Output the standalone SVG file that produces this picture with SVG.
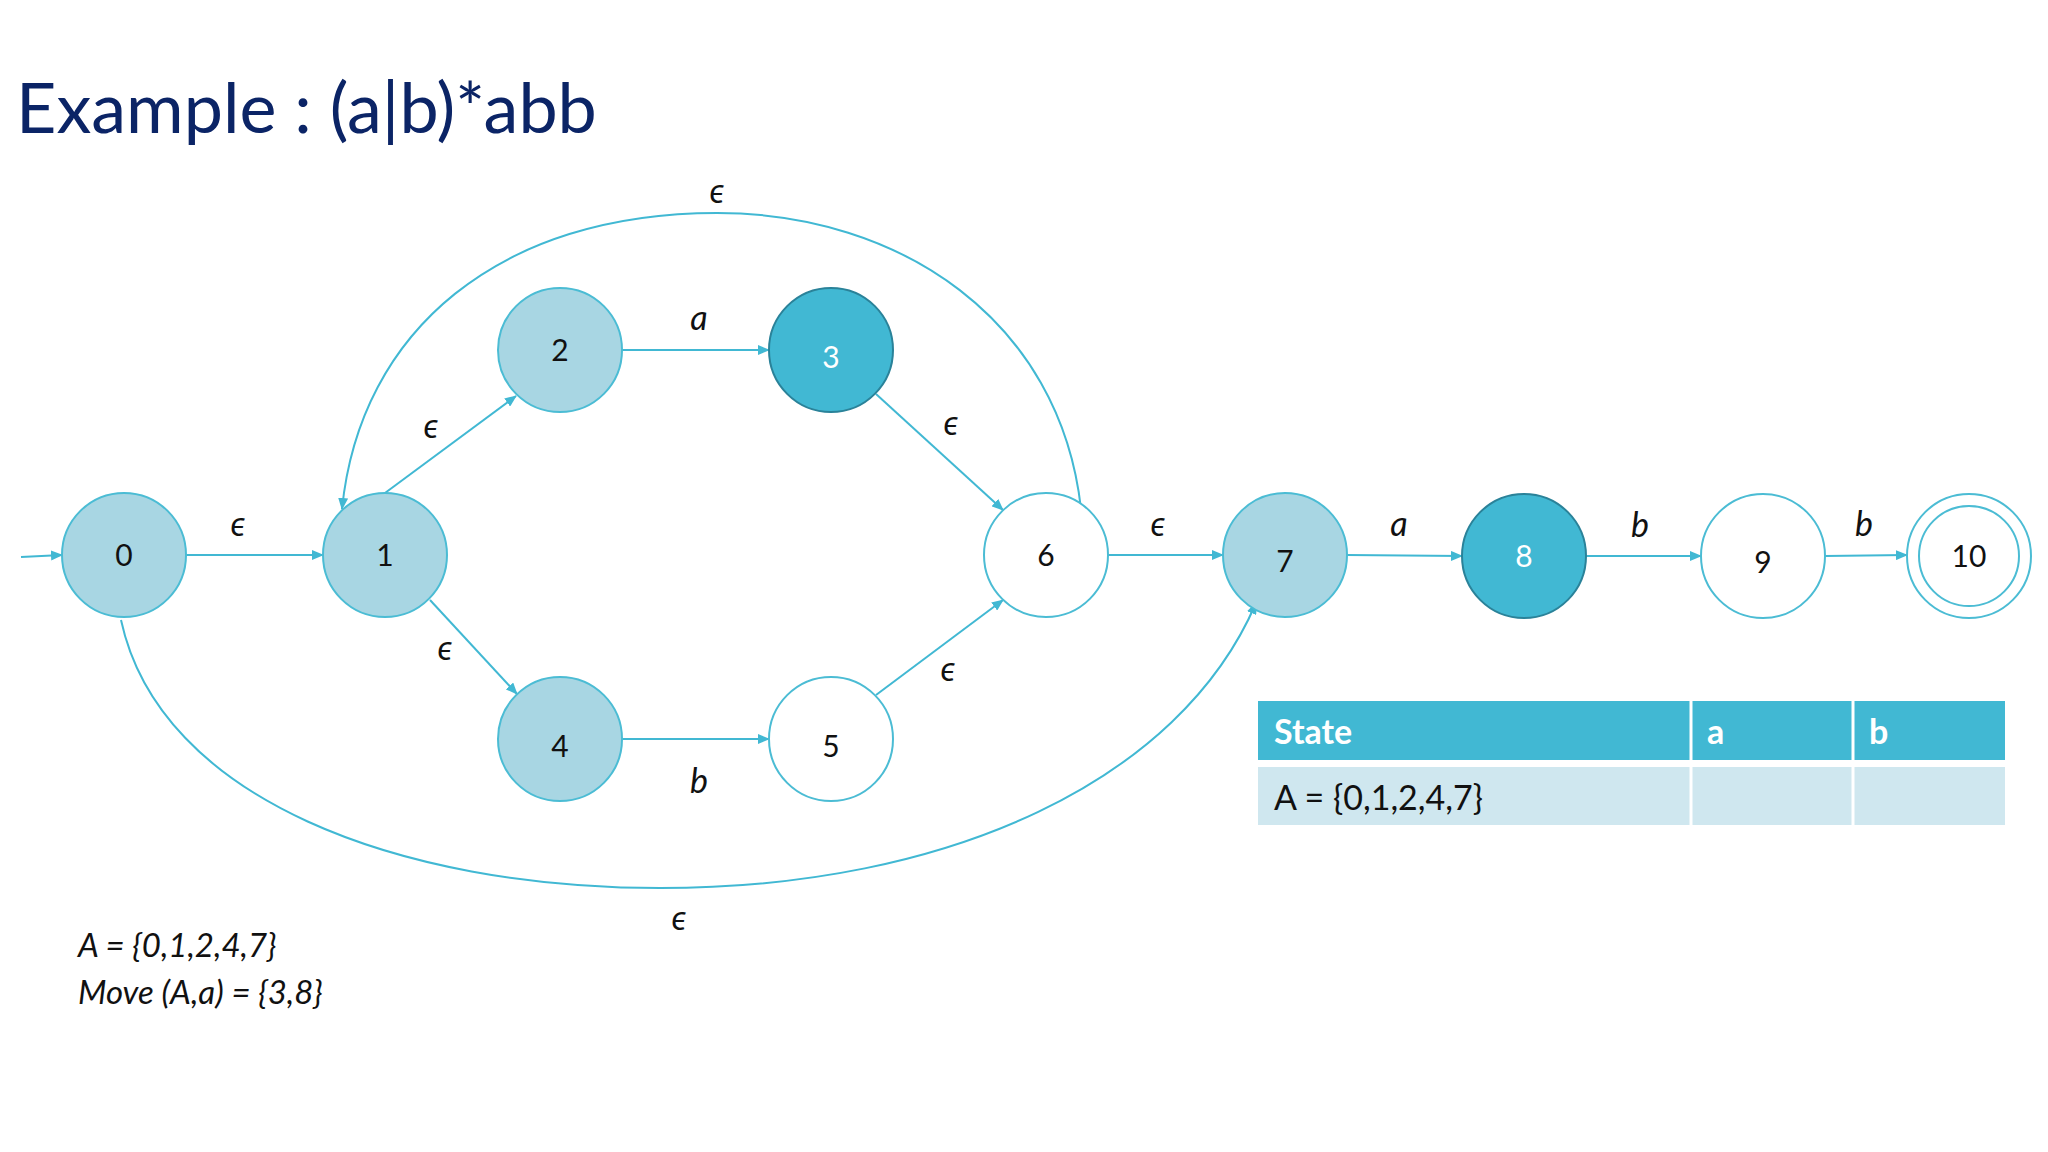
<svg xmlns="http://www.w3.org/2000/svg" width="2048" height="1152" viewBox="0 0 2048 1152">
<style>
.n{stroke:#4bbcd4;stroke-width:2;fill:#fff}
.l{fill:#a8d6e3}
.d{fill:#41b8d3;stroke:#2a8299}
.t{font-family:Lato,"Open Sans",sans-serif;font-size:30px;text-anchor:middle;fill:#111}
.e{stroke:#41b8d3;stroke-width:2;fill:none;marker-end:url(#ah)}
.lb{font-family:Lato,"Open Sans",sans-serif;font-size:34px;font-style:italic;text-anchor:middle;fill:#111}
</style>
<defs><marker id="ah" markerWidth="12" markerHeight="10" refX="11" refY="5" orient="auto" markerUnits="userSpaceOnUse"><path d="M0,0L12,5L0,10z" fill="#41b8d3"/></marker></defs>
<rect width="2048" height="1152" fill="#fff"/>
<text x="16" y="133" font-family="Lato,'Open Sans',sans-serif" font-size="70" fill="#0b2466">Example : (a|b)*abb</text>
<g id="edges">
<path class="e" d="M21,557L62,555"/>
<path class="e" d="M186,555L323,555"/>
<path class="e" d="M385,493L516,396"/>
<path class="e" d="M622,350L769,350"/>
<path class="e" d="M876,394L1003,510"/>
<path class="e" d="M430,600L517,694"/>
<path class="e" d="M622,739L769,739"/>
<path class="e" d="M876,695L1003,600"/>
<path class="e" d="M1108,555L1223,555"/>
<path class="e" d="M1347,555L1462,556"/>
<path class="e" d="M1586,556L1701,556"/>
<path class="e" d="M1825,556L1907,555"/>
<path class="e" d="M1081,509C1060,320 900,213 717,213C500,213 360,330 342,509"/>
<path class="e" d="M121,620C160,800 400,888 660,888C950,888 1180,780 1256,603"/>
</g>
<g class="lb">
<text x="238" y="536">ϵ</text><text x="717" y="203">ϵ</text><text x="431" y="438">ϵ</text>
<text x="699" y="330">a</text><text x="951" y="435">ϵ</text><text x="445" y="660">ϵ</text>
<text x="699" y="793">b</text><text x="948" y="681">ϵ</text><text x="1158" y="536">ϵ</text>
<text x="1399" y="536">a</text><text x="1640" y="537">b</text><text x="1864" y="536">b</text>
<text x="679" y="930">ϵ</text>
</g>
<g id="n0"><circle class="n l" cx="124" cy="555" r="62"/><text class="t" x="124" y="566">0</text></g>
<g id="n1"><circle class="n l" cx="385" cy="555" r="62"/><text class="t" x="385" y="566">1</text></g>
<g id="n2"><circle class="n l" cx="560" cy="350" r="62"/><text class="t" x="560" y="361">2</text></g>
<g id="n3"><circle class="n d" cx="831" cy="350" r="62"/><text class="t" x="831" y="368" fill="#fff" style="fill:#fff">3</text></g>
<g id="n4"><circle class="n l" cx="560" cy="739" r="62"/><text class="t" x="560" y="757">4</text></g>
<g id="n5"><circle class="n" cx="831" cy="739" r="62"/><text class="t" x="831" y="757">5</text></g>
<g id="n6"><circle class="n" cx="1046" cy="555" r="62"/><text class="t" x="1046" y="566">6</text></g>
<g id="n7"><circle class="n l" cx="1285" cy="555" r="62"/><text class="t" x="1285" y="572">7</text></g>
<g id="n8"><circle class="n d" cx="1524" cy="556" r="62"/><text class="t" x="1524" y="567" style="fill:#fff">8</text></g>
<g id="n9"><circle class="n" cx="1763" cy="556" r="62"/><text class="t" x="1763" y="573">9</text></g>
<g id="n10"><circle class="n" cx="1969" cy="556" r="62"/><circle class="n" cx="1969" cy="556" r="50"/><text class="t" x="1969" y="567">10</text></g>
<g id="table" font-family="Lato,'Open Sans',sans-serif" font-size="34">
<rect x="1258" y="701" width="747" height="59" fill="#41b8d3"/>
<rect x="1258" y="767" width="747" height="58" fill="#cfe7ef"/>
<path d="M1691,701V825M1853,701V825" stroke="#fff" stroke-width="3"/>
<text x="1274" y="744" fill="#fff" font-weight="bold">State</text>
<text x="1707" y="744" fill="#fff" font-weight="bold">a</text>
<text x="1869" y="744" fill="#fff" font-weight="bold">b</text>
<text x="1274" y="810" fill="#111">A = {0,1,2,4,7}</text>
</g>
<g font-family="Lato,'Open Sans',sans-serif" font-size="33" font-style="italic" fill="#111">
<text x="78" y="957">A = {0,1,2,4,7}</text>
<text x="78" y="1004">Move (A,a) = {3,8}</text>
</g>
</svg>
